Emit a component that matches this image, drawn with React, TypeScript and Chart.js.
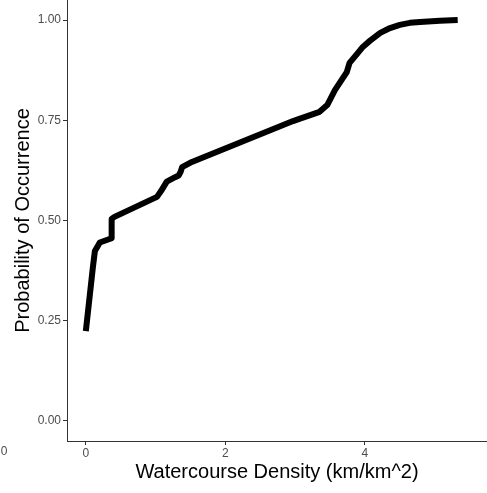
import React, { useEffect, useRef } from "react";
import { Chart, registerables } from "chart.js";

Chart.register(...registerables);

const densityX = [0, 0.10, 0.13, 0.20, 0.34, 0.37, 0.37, 0.41, 1.02, 1.08, 1.16, 1.28, 1.33, 1.36, 1.38, 1.52, 2.97, 3.04, 3.35, 3.46, 3.57, 3.74, 3.78, 3.885, 3.97, 4.07, 4.22, 4.36, 4.50, 4.645, 4.79, 5.075, 5.33];
const probabilityY = [0.224, 0.382, 0.424, 0.445, 0.454, 0.456, 0.504, 0.509, 0.559, 0.574, 0.597, 0.608, 0.612, 0.622, 0.633, 0.646, 0.748, 0.752, 0.771, 0.788, 0.825, 0.870, 0.893, 0.915, 0.933, 0.948, 0.968, 0.980, 0.988, 0.993, 0.995, 0.998, 1.0];
const xTicks = [0, 2, 4];
const yTicks = [0, 0.25, 0.5, 0.75, 1.0];
const xTitle = "Watercourse Density (km/km^2)";
const yTitle = "Probability of Occurrence";
const strayLabel = "0";

const FONT = "'Liberation Sans', Arial, sans-serif";
const TICK_COLOR = "#4D4D4D";
const AXIS_COLOR = "#333333";

export default function App() {
  const ref = useRef<HTMLCanvasElement | null>(null);
  useEffect(() => {
    const canvas = ref.current;
    if (!canvas) return;
    const points = densityX.map((x, i) => ({ x, y: probabilityY[i] }));
    const strayPlugin = {
      id: "stray",
      afterDraw(chart: any) {
        const ctx = chart.ctx;
        ctx.save();
        ctx.font = `12px ${FONT}`;
        ctx.fillStyle = TICK_COLOR;
        ctx.textAlign = "center";
        ctx.textBaseline = "top";
        ctx.fillText(strayLabel, 4, chart.chartArea.bottom + 5);
        ctx.restore();
      },
    };
    const chart = new Chart(canvas, {
      type: "line",
      data: {
        datasets: [
          {
            data: points,
            borderColor: "#000000",
            borderWidth: 6,
            pointRadius: 0,
            tension: 0,
            borderJoinStyle: "round",
            borderCapStyle: "butt",
            fill: false,
          },
        ],
      },
      options: {
        animation: false,
        responsive: false,
        devicePixelRatio: 1,
        layout: { padding: 0 },
        plugins: { legend: { display: false }, tooltip: { enabled: false } },
        scales: {
          x: {
            type: "linear",
            min: -0.27,
            max: 5.75,
            afterBuildTicks: (s: any) => {
              s.ticks = xTicks.map((v) => ({ value: v }));
            },
            afterFit: (s: any) => {
              s.height = 52;
              s.paddingLeft = 0;
              s.paddingRight = 0;
            },
            grid: { display: true, drawOnChartArea: false, drawTicks: true, tickLength: 4, color: AXIS_COLOR },
            border: { display: true, color: AXIS_COLOR, width: 1 },
            ticks: {
              color: TICK_COLOR,
              font: { family: FONT, size: 12 },
              padding: 1,
              maxRotation: 0,
              callback: (v: any) => String(v),
            },
            title: {
              display: true,
              text: xTitle,
              color: "#000000",
              font: { family: FONT, size: 20 },
              padding: { top: 0, bottom: 9 },
            },
          },
          y: {
            type: "linear",
            min: -0.05,
            max: 1.05,
            afterBuildTicks: (s: any) => {
              s.ticks = yTicks.map((v) => ({ value: v }));
            },
            afterFit: (s: any) => {
              s.width = 67;
              s.paddingTop = 0;
              s.paddingBottom = 0;
            },
            grid: { display: true, drawOnChartArea: false, drawTicks: true, tickLength: 4, color: AXIS_COLOR },
            border: { display: true, color: AXIS_COLOR, width: 1 },
            ticks: {
              color: TICK_COLOR,
              font: { family: FONT, size: 12 },
              padding: 2,
              callback: (v: any) => Number(v).toFixed(2),
            },
            title: {
              display: true,
              text: yTitle,
              color: "#000000",
              font: { family: FONT, size: 20 },
              padding: { top: 11, bottom: 0 },
            },
          },
        },
      },
      plugins: [strayPlugin],
    });
    return () => chart.destroy();
  }, []);
  return (
    <div style={{ position: "fixed", left: 0, top: 0, width: 487, height: 493, background: "#fff" }}>
      <canvas ref={ref} width={487} height={493} style={{ width: 487, height: 493, display: "block" }} />
    </div>
  );
}
